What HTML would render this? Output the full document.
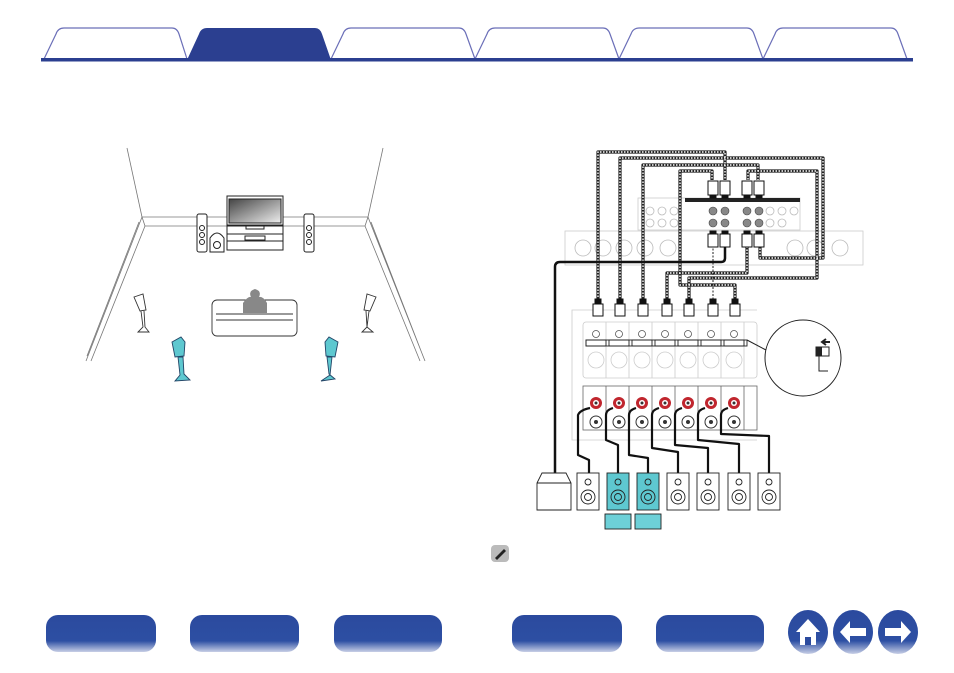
<!DOCTYPE html>
<html><head><meta charset="utf-8"><style>
html,body{margin:0;padding:0;background:#fff;}
body{width:954px;height:673px;overflow:hidden;position:relative;font-family:"Liberation Sans",sans-serif;}
svg{position:absolute;left:0;top:0;}
</style></head><body>
<svg width="954" height="673" viewBox="0 0 954 673" xmlns="http://www.w3.org/2000/svg">
<defs>
<linearGradient id="btn" x1="0" y1="0" x2="0" y2="1">
<stop offset="0" stop-color="#2b4a9e"/><stop offset="0.7" stop-color="#2d4fa3"/><stop offset="1" stop-color="#c8cfe6"/>
</linearGradient>
<linearGradient id="tv" x1="0" y1="0" x2="1" y2="1">
<stop offset="0" stop-color="#444"/><stop offset="1" stop-color="#eee"/>
</linearGradient>
</defs>
<!-- tabs -->
<g stroke="#6b6fb8" stroke-width="1.2" fill="#fff">
<path d="M44,59 L56,34 Q58,28 64,28 L172,28 Q177,28 179,34 L187,59"/>
<path d="M331,59 L343,34 Q345,28 351,28 L459,28 Q464,28 466,34 L475,59"/>
<path d="M475,59 L487,34 Q489,28 495,28 L603,28 Q608,28 610,34 L619,59"/>
<path d="M619,59 L631,34 Q633,28 639,28 L747,28 Q752,28 754,34 L763,59"/>
<path d="M763,59 L775,34 Q777,28 783,28 L891,28 Q896,28 898,34 L907,59"/>
</g>
<path d="M187,60 L199,34 Q201,28 207,28 L315,28 Q320,28 322,34 L331,60 Z" fill="#2b3f90"/>
<rect x="41" y="58" width="872" height="3.5" fill="#2b3f90"/>

<!-- room -->
<g stroke="#777" stroke-width="0.8" fill="none">
<line x1="127" y1="148" x2="142" y2="217"/>
<line x1="383" y1="148" x2="368" y2="217"/>
<path d="M142,217 L368,217 M145,226 L365,226 M142,217 L145,226 M368,217 L365,226"/>
<path d="M142,217 L86,361 M145,226 L91,361 M139,222 L87,356"/>
<path d="M368,217 L425,361 M365,226 L420,361 M371,222 L423,356"/>
</g>
<g stroke="#222" stroke-width="1" fill="#fff">
<rect x="227" y="196" width="56" height="29"/>
<rect x="229" y="199" width="52" height="24" fill="url(#tv)"/>
<rect x="227" y="226" width="56" height="24"/>
<line x1="227" y1="234" x2="283" y2="234"/><line x1="227" y1="241" x2="283" y2="241"/>
<rect x="245" y="236" width="20" height="4"/>
<rect x="246" y="226" width="18" height="3"/>
<rect x="197" y="214" width="10" height="38" rx="2"/>
<circle cx="202" cy="228" r="2.5"/><circle cx="202" cy="235" r="2.5"/><circle cx="202" cy="242" r="2.5"/>
<rect x="304" y="214" width="10" height="38" rx="2"/>
<circle cx="309" cy="228" r="2.5"/><circle cx="309" cy="235" r="2.5"/><circle cx="309" cy="242" r="2.5"/>
<path d="M210,252 L210,238 Q217,228 224,238 L224,252 Z"/>
<circle cx="217" cy="245" r="3.5"/>
</g>
<g stroke="#333" stroke-width="0.9" fill="#fff">
<rect x="212" y="300" width="85" height="36" rx="5"/>
<line x1="216" y1="314" x2="293" y2="314"/><line x1="216" y1="320" x2="293" y2="320"/>
</g>
<path d="M243,313 L243,303 Q248,296 251,297 Q248,291 255,289 Q262,291 259,297 Q263,296 267,303 L267,313 Z" fill="#888"/>
<g stroke="#333" stroke-width="0.9" fill="#fff">
<path d="M134,297 L143,294 L146,310 L140,311 Z"/><path d="M141,311 L143,327 L138,332 L149,332 L145,327 L144,311"/>
<path d="M376,297 L367,294 L364,310 L370,311 Z"/><path d="M369,311 L367,327 L362,332 L373,332 L367,327 L366,311"/>
</g>
<g stroke="#246" stroke-width="0.9" fill="#5ec8d0">
<path d="M172,342 L181,337 L185,342 L184,356 L175,357 Z"/><path d="M178,357 L180,375 L175,381 L190,380 L184,374 L183,357 Z"/>
<path d="M338,342 L329,337 L325,342 L326,356 L335,357 Z"/><path d="M332,357 L330,375 L321,381 L335,379 L329,374 L327,357 Z"/>
</g>

<!-- receiver back panels -->
<g stroke="#ccc" stroke-width="0.8" fill="#fff">
<rect x="565" y="231" width="298" height="34"/>
<rect x="638" y="198" width="162" height="32"/>
</g>
<rect x="685" y="198" width="115" height="4" fill="#222"/>
<g stroke="#bbb" stroke-width="0.8" fill="none">
<circle cx="583" cy="248" r="8"/><circle cx="603" cy="248" r="8"/><circle cx="624" cy="248" r="8"/><circle cx="645" cy="248" r="8"/><circle cx="668" cy="248" r="8"/>
<circle cx="795" cy="248" r="8"/><circle cx="815" cy="248" r="8"/><circle cx="840" cy="248" r="8"/>
<circle cx="650" cy="211" r="4"/><circle cx="662" cy="211" r="4"/><circle cx="674" cy="211" r="4"/><circle cx="650" cy="223" r="4"/><circle cx="662" cy="223" r="4"/><circle cx="674" cy="223" r="4"/>
<circle cx="770" cy="211" r="4"/><circle cx="782" cy="211" r="4"/><circle cx="794" cy="211" r="4"/><circle cx="770" cy="223" r="4"/><circle cx="782" cy="223" r="4"/>
</g>
<g fill="#888" stroke="#444" stroke-width="0.6">
<circle cx="713" cy="211" r="4"/><circle cx="725" cy="211" r="4"/><circle cx="747" cy="211" r="4"/><circle cx="759" cy="211" r="4"/>
<circle cx="713" cy="223" r="4"/><circle cx="725" cy="223" r="4"/><circle cx="747" cy="223" r="4"/><circle cx="759" cy="223" r="4"/>
</g>

<!-- amp panel -->
<g stroke="#ccc" stroke-width="0.8" fill="#fff">
<path d="M757,310 L572,310 L572,440 L757,440"/>
<rect x="583" y="322" width="174" height="56" rx="3"/>
</g>
<g stroke="#ccc" stroke-width="0.8" fill="none">
<line x1="606" y1="322" x2="606" y2="378"/><line x1="629" y1="322" x2="629" y2="378"/><line x1="652" y1="322" x2="652" y2="378"/><line x1="675" y1="322" x2="675" y2="378"/><line x1="698" y1="322" x2="698" y2="378"/><line x1="721" y1="322" x2="721" y2="378"/><line x1="744" y1="322" x2="744" y2="378"/>
<circle cx="596" cy="360" r="8"/><circle cx="619" cy="360" r="8"/><circle cx="642" cy="360" r="8"/><circle cx="665" cy="360" r="8"/><circle cx="688" cy="360" r="8"/><circle cx="711" cy="360" r="8"/><circle cx="734" cy="360" r="8"/>
</g>
<rect x="583" y="386" width="174" height="44" fill="#fff" stroke="#666" stroke-width="0.8"/>
<g stroke="#666" stroke-width="0.8">
<line x1="606" y1="386" x2="606" y2="430"/><line x1="629" y1="386" x2="629" y2="430"/><line x1="652" y1="386" x2="652" y2="430"/><line x1="675" y1="386" x2="675" y2="430"/><line x1="698" y1="386" x2="698" y2="430"/><line x1="721" y1="386" x2="721" y2="430"/><line x1="744" y1="386" x2="744" y2="430"/>
</g>
<g id="col">
<circle cx="596" cy="334" r="3.5" fill="#fff" stroke="#555" stroke-width="0.8"/>
<rect x="586" y="340" width="20" height="6" fill="none" stroke="#222" stroke-width="0.9"/>
<circle cx="596" cy="403" r="6" fill="#c0262e"/><circle cx="596" cy="403" r="3" fill="#fff"/><circle cx="596" cy="403" r="1.5" fill="#333"/>
<circle cx="596" cy="422" r="6" fill="#fff" stroke="#333"/><circle cx="596" cy="422" r="2" fill="#333"/>
</g>
<use href="#col" x="23"/><use href="#col" x="46"/><use href="#col" x="69"/><use href="#col" x="92"/><use href="#col" x="115"/><use href="#col" x="138"/>
<rect x="586" y="340" width="161" height="6" fill="none" stroke="#222" stroke-width="0.9"/>

<!-- zoom circle -->
<circle cx="803" cy="358" r="38" fill="#fff" stroke="#222" stroke-width="1"/>
<line x1="747" y1="340" x2="766" y2="350" stroke="#222"/>
<rect x="816" y="347" width="13" height="9" fill="#fff" stroke="#222"/><rect x="816" y="347" width="6" height="9" fill="#222"/>
<path d="M822,342 L830,342 M826,339 L822,342 L826,345" stroke="#222" stroke-width="2" fill="none"/>
<path d="M819,356 L819,371 L828,371" stroke="#222" fill="none"/>

<!-- dashed cables -->
<g fill="none" stroke-linejoin="round">
<g stroke="#222" stroke-width="3.2">
<path d="M598,303 L598,152 L725,152 L725,180"/>
<path d="M620,303 L620,158 L823,158 L823,258 L760,258 L760,247"/>
<path d="M643,303 L643,165 L758,165 L758,180"/>
<path d="M667,303 L667,273 L747,273 L747,247"/>
<path d="M689,303 L689,278 L817,278 L817,171 L748,171 L748,180"/>
<path d="M735,303 L735,285 L680,285 L680,171 L712,171 L712,180"/>
</g>
<g stroke="#fff" stroke-width="1.4" stroke-dasharray="1.5 1.5">
<path d="M598,303 L598,152 L725,152 L725,180"/>
<path d="M620,303 L620,158 L823,158 L823,258 L760,258 L760,247"/>
<path d="M643,303 L643,165 L758,165 L758,180"/>
<path d="M667,303 L667,273 L747,273 L747,247"/>
<path d="M689,303 L689,278 L817,278 L817,171 L748,171 L748,180"/>
<path d="M735,303 L735,285 L680,285 L680,171 L712,171 L712,180"/>
</g>
<path d="M713,303 L713,247" stroke="#222" stroke-width="1" stroke-dasharray="2 1.5"/>
<path d="M725,247 L725,258 Q725,262 721,262 L560,262 Q555,262 555,267 L555,473" stroke="#111" stroke-width="2.5"/>
</g>
<!-- plugs -->
<g fill="#fff" stroke="#111" stroke-width="1">
<g id="pl"><rect x="593" y="304" width="10" height="12"/><rect x="595" y="299" width="6" height="5" fill="#111"/></g>
<use href="#pl" x="22"/><use href="#pl" x="45"/><use href="#pl" x="69"/><use href="#pl" x="91"/><use href="#pl" x="115"/><use href="#pl" x="137"/>
<g id="tp"><rect x="708" y="181" width="10" height="14"/><rect x="710" y="195" width="6" height="3" fill="#111"/></g>
<use href="#tp" x="12"/><use href="#tp" x="34"/><use href="#tp" x="46"/>
<g id="bp"><rect x="708" y="234" width="10" height="13"/><rect x="710" y="231" width="6" height="3" fill="#111"/></g>
<use href="#bp" x="12"/><use href="#bp" x="34"/><use href="#bp" x="46"/>
</g>

<!-- speaker cables -->
<g fill="none" stroke="#111" stroke-width="2.2" stroke-linejoin="round">
<path d="M590,408 Q580,410 578,415 L578,455 L589,460 L589,473"/>
<path d="M613,408 Q606,410 606,415 L606,440 L618,445 L618,473"/>
<path d="M636,408 Q629,410 629,415 L629,455 L648,458 L648,473"/>
<path d="M659,408 Q652,410 652,415 L652,448 L678,452 L678,473"/>
<path d="M682,408 Q675,410 675,415 L675,445 L708,448 L708,473"/>
<path d="M705,408 Q698,410 698,415 L698,440 L739,444 L739,473"/>
<path d="M728,408 Q721,410 721,415 L721,434 L769,436 L769,473"/>
</g>
<!-- speakers -->
<g stroke="#222" stroke-width="0.9">
<path d="M537,510 L537,483 L542,473 L566,473 L571,483 L571,510 Z" fill="#fff"/>
<line x1="537" y1="483" x2="571" y2="483"/>
<g id="sp"><rect x="577" y="473" width="22" height="37" fill="#fff"/><circle cx="588" cy="482" r="3" fill="none"/><circle cx="588" cy="497" r="7" fill="none"/><circle cx="588" cy="497" r="3.5" fill="none"/></g>
<rect x="607" y="473" width="22" height="37" fill="#5ec8d0"/><circle cx="618" cy="482" r="3" fill="none"/><circle cx="618" cy="497" r="7" fill="none"/><circle cx="618" cy="497" r="3.5" fill="none"/>
<rect x="637" y="473" width="22" height="37" fill="#5ec8d0"/><circle cx="648" cy="482" r="3" fill="none"/><circle cx="648" cy="497" r="7" fill="none"/><circle cx="648" cy="497" r="3.5" fill="none"/>
<use href="#sp" x="90"/><use href="#sp" x="120"/><use href="#sp" x="151"/><use href="#sp" x="181"/>
<rect x="605" y="514" width="26" height="15" fill="#6dd0d8"/>
<rect x="635" y="514" width="26" height="15" fill="#6dd0d8"/>
</g>

<!-- note icon -->
<rect x="491" y="545" width="18" height="17" rx="4" fill="#bbb"/>
<path d="M495,558 L504,549 L506,551 L497,560 Z" fill="#222"/>

<!-- bottom buttons -->
<g fill="url(#btn)">
<rect x="46" y="615" width="110" height="37" rx="12"/>
<rect x="190" y="615" width="109" height="37" rx="12"/>
<rect x="334" y="615" width="108" height="37" rx="12"/>
<rect x="512" y="615" width="110" height="37" rx="12"/>
<rect x="656" y="615" width="108" height="37" rx="12"/>
<ellipse cx="808" cy="632" rx="20" ry="22"/>
<ellipse cx="853" cy="632" rx="20" ry="22"/>
<ellipse cx="898" cy="632" rx="20" ry="22"/>
</g>
<path d="M796,632 L808,619 L820,632 L816,632 L816,645 L800,645 L800,632 Z" fill="#fff"/>
<rect x="805" y="637" width="6" height="8" fill="#2b4a9e"/>
<path d="M840,632 L850,621 L850,628 L866,628 L866,636 L850,636 L850,643 Z" fill="#fff"/>
<path d="M911,632 L901,621 L901,628 L885,628 L885,636 L901,636 L901,643 Z" fill="#fff"/>
</svg>
</body></html>
